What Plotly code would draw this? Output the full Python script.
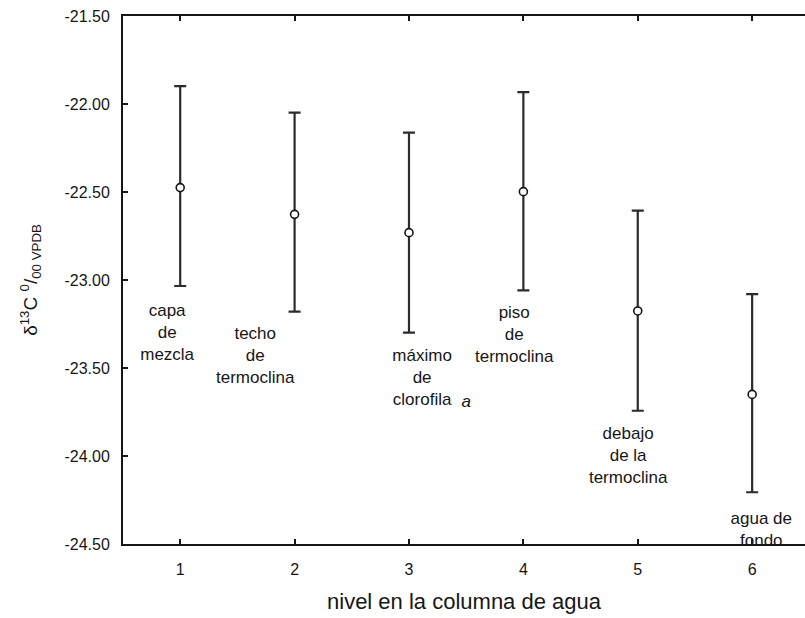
import plotly.graph_objects as go

# Mean δ13C per level in the water column, with upper / lower interval limits
levels = [1, 2, 3, 4, 5, 6]
means = [-22.475, -22.627, -22.731, -22.498, -23.176, -23.650]
upper = [-21.898, -22.049, -22.163, -21.932, -22.606, -23.080]
lower = [-23.034, -23.180, -23.299, -23.059, -23.743, -24.206]

# Level names written next to each interval
label_text = [
    "capa<br>de<br>mezcla",
    "techo<br>de<br>termoclina",
    "máximo<br>de<br>clorofila",
    "piso<br>de<br>termoclina",
    "debajo<br>de la<br>termoclina",
    "agua de<br>fondo",
]
label_x = [0.886, 1.656, 3.115, 3.920, 4.916, 6.080]
label_y = [-23.304, -23.435, -23.560, -23.318, -24.006, -24.425]

y_tickvals = [-21.5, -22.0, -22.5, -23.0, -23.5, -24.0, -24.5]
y_ticktext = ["-21.50", "-22.00", "-22.50", "-23.00", "-23.50", "-24.00", "-24.50"]

err_plus = [u - m for u, m in zip(upper, means)]
err_minus = [m - l for m, l in zip(means, lower)]

ink = "#161616"
font_family = "Liberation Sans, Arial, sans-serif"

fig = go.Figure()

fig.add_trace(go.Scatter(
    x=levels,
    y=means,
    mode="markers",
    marker=dict(symbol="circle", size=8, color="white",
                line=dict(color=ink, width=1.6)),
    error_y=dict(type="data", symmetric=False, array=err_plus,
                 arrayminus=err_minus, color="#2b2b2b", thickness=2.2,
                 width=6),
    showlegend=False,
    hoverinfo="skip",
))

# Level names (clipped at the plot frame, so the bottom one is cut by the axis)
fig.add_trace(go.Scatter(
    x=label_x,
    y=label_y,
    mode="text",
    text=label_text,
    textposition="middle center",
    textfont=dict(family=font_family, size=17, color=ink),
    cliponaxis=True,
    showlegend=False,
    hoverinfo="skip",
))

# Italic "a" after "clorofila"
fig.add_trace(go.Scatter(
    x=[3.50],
    y=[-23.699],
    mode="text",
    text=["<i>a</i>"],
    textposition="middle center",
    textfont=dict(family=font_family, size=17, color=ink),
    showlegend=False,
    hoverinfo="skip",
))

fig.update_layout(
    width=805,
    height=618,
    margin=dict(l=123, r=0, t=16, b=74),
    paper_bgcolor="white",
    plot_bgcolor="white",
    font=dict(family=font_family, color=ink),
    xaxis=dict(
        range=[0.5, 6.462],
        tickvals=levels,
        ticktext=[str(v) for v in levels],
        ticks="inside",
        ticklen=5,
        tickwidth=1.5,
        tickcolor=ink,
        showline=True,
        linecolor=ink,
        linewidth=2,
        mirror="ticks",
        showgrid=False,
        zeroline=False,
        ticklabelstandoff=10,
        tickfont=dict(size=16, color=ink),
        title=dict(text="nivel en la columna de agua",
                   font=dict(size=22, color=ink), standoff=16),
    ),
    yaxis=dict(
        range=[-24.5, -21.5],
        tickvals=y_tickvals,
        ticktext=y_ticktext,
        ticks="inside",
        ticklen=5,
        tickwidth=1.5,
        tickcolor=ink,
        showline=True,
        linecolor=ink,
        linewidth=2,
        showgrid=False,
        zeroline=False,
        ticklabelstandoff=8,
        tickfont=dict(size=16, color=ink),
        title=dict(text="δ<sup>13</sup>C <sup>0</sup>/<sub>00 VPDB</sub>",
                   font=dict(size=19, color=ink), standoff=22),
    ),
)

fig.write_html("out.html")
